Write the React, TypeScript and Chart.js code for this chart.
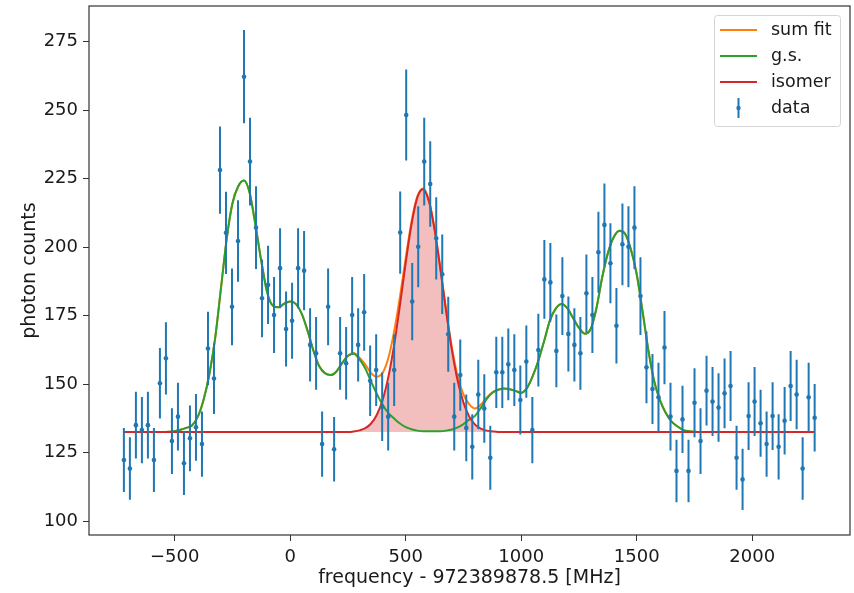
import React, { useEffect, useRef } from 'react';
import { Chart, registerables } from 'chart.js';

Chart.register(...registerables);

// ---- data ----
const freqX = [
  -720, -694, -668, -642, -616, -590, -564, -538, -512, -486,
  -460, -434, -408, -382, -356, -330, -304, -278, -252, -226,
  -200, -174, -148, -122, -96, -70, -44, -18, 8, 34,
  60, 86, 112, 138, 164, 190, 216, 242, 268, 294,
  320, 346, 372, 398, 424, 450, 476, 502, 528, 554,
  580, 606, 632, 658, 684, 710, 736, 762, 788, 814,
  840, 866, 892, 918, 944, 970, 996, 1022, 1048, 1074,
  1100, 1126, 1152, 1178, 1204, 1230, 1256, 1282, 1308, 1334,
  1360, 1386, 1412, 1438, 1464, 1490, 1516, 1542, 1568, 1594,
  1620, 1646, 1672, 1698, 1724, 1750, 1776, 1802, 1828, 1854,
  1880, 1906, 1932, 1958, 1984, 2010, 2036, 2062, 2088, 2114,
  2140, 2166, 2192, 2218, 2244, 2270,
];

const counts = [
  122.3, 119.2, 135.0, 133.2, 135.0, 122.3, 150.3, 159.4, 129.2, 138.1,
  121.1, 130.2, 134.2, 128.1, 163.0, 152.0, 228.1, 205.2, 178.2, 202.2,
  262.2, 231.2, 207.1, 181.3, 186.2, 175.2, 192.3, 170.1, 173.1, 192.3,
  191.4, 164.3, 161.2, 128.1, 178.2, 126.2, 161.2, 157.6, 175.2, 164.3,
  176.2, 151.2, 155.1, 141.7, 138.1, 155.1, 205.3, 248.2, 180.1, 200.1,
  231.2, 223.0, 203.2, 190.1, 168.2, 138.1, 153.3, 134.0, 127.1, 146.2,
  141.1, 123.1, 154.3, 154.3, 157.2, 155.1, 144.2, 158.2, 133.2, 162.4,
  188.2, 187.1, 162.1, 182.1, 168.3, 164.3, 161.2, 183.1, 175.2, 198.1,
  208.1, 194.1, 171.3, 201.0, 200.1, 207.1, 182.1, 156.1, 148.2, 145.2,
  163.3, 138.1, 118.3, 137.1, 118.3, 143.2, 129.2, 147.6, 143.6, 141.4,
  146.6, 149.3, 123.1, 115.2, 138.3, 143.6, 135.7, 128.1, 138.3, 127.1,
  136.6, 149.3, 146.2, 119.2, 145.2, 137.7,
];

const countErr = [
  11.7, 11.4, 12.2, 12.1, 12.2, 11.7, 12.9, 13.2, 12.0, 12.4,
  11.6, 12.0, 12.2, 11.9, 13.4, 12.9, 15.9, 15.0, 14.0, 14.9,
  17.0, 16.0, 15.1, 14.2, 14.3, 13.9, 14.6, 13.7, 13.9, 14.6,
  14.5, 13.4, 13.3, 11.9, 14.0, 11.8, 13.3, 13.2, 13.9, 13.4,
  14.0, 12.9, 13.1, 12.5, 12.4, 13.1, 15.0, 16.6, 14.1, 14.8,
  16.0, 15.6, 15.0, 14.5, 13.7, 12.4, 13.0, 12.2, 11.9, 12.7,
  12.5, 11.7, 13.0, 13.0, 13.1, 13.1, 12.6, 13.2, 12.1, 13.3,
  14.4, 14.4, 13.3, 14.2, 13.7, 13.4, 13.3, 14.2, 13.9, 14.8,
  15.1, 14.6, 13.8, 14.9, 14.8, 15.1, 14.2, 13.1, 12.8, 12.6,
  13.4, 12.4, 11.4, 12.3, 11.4, 12.6, 12.0, 12.7, 12.6, 12.5,
  12.7, 12.8, 11.7, 11.2, 12.4, 12.6, 12.2, 11.9, 12.4, 11.9,
  12.3, 12.8, 12.7, 11.4, 12.6, 12.3,
];

const fitX = [
  -720, -650, -575, -550, -525, -500, -475, -450, -425, -400,
  -375, -350, -325, -300, -275, -250, -225, -200, -175, -150,
  -125, -100, -75, -50, -25, 0, 25, 50, 75, 100,
  125, 150, 175, 200, 225, 250, 275, 300, 325, 350,
  375, 400, 425, 450, 475, 500, 525, 550, 575, 600,
  625, 650, 675, 700, 725, 750, 775, 800, 825, 850,
  875, 900, 925, 950, 975, 1000, 1025, 1050, 1075, 1100,
  1125, 1150, 1175, 1200, 1225, 1250, 1275, 1300, 1325, 1350,
  1375, 1400, 1425, 1450, 1475, 1500, 1525, 1550, 1575, 1600,
  1625, 1650, 1675, 1700, 1725, 1750, 1775, 1850, 2000, 2150,
  2270,
];

const gsFit = [
  132.5, 132.5, 132.5, 132.5, 132.6, 132.8, 133.3, 134.0, 134.9, 138.1,
  144.3, 153.6, 166.7, 184.8, 203.0, 216.0, 222.2, 224.3, 219.6, 207.8,
  194.8, 183.5, 178.6, 178.0, 179.4, 180.1, 179.2, 175.6, 169.5, 162.3,
  156.6, 154.0, 153.3, 154.6, 157.7, 160.3, 161.1, 159.0, 155.7, 150.9,
  146.4, 142.4, 139.4, 137.4, 135.6, 134.3, 133.5, 133.0, 132.8, 132.8,
  132.8, 132.8, 133.0, 133.4, 134.2, 135.4, 137.0, 138.4, 141.3, 144.5,
  146.8, 147.9, 148.4, 148.1, 147.5, 146.8, 148.6, 153.0, 158.8, 166.0,
  173.4, 177.6, 179.2, 177.6, 174.0, 170.5, 168.4, 170.0, 177.5, 188.8,
  197.8, 203.6, 206.0, 204.8, 199.0, 190.0, 176.6, 162.5, 151.2, 144.2,
  139.5, 136.4, 134.6, 133.3, 132.8, 132.6, 132.5, 132.5, 132.5, 132.5,
  132.5,
];

const isoFit = [
  132.5, 132.5, 132.5, 132.5, 132.5, 132.5, 132.5, 132.5, 132.5, 132.5,
  132.5, 132.5, 132.5, 132.5, 132.5, 132.5, 132.5, 132.5, 132.5, 132.5,
  132.5, 132.5, 132.5, 132.5, 132.5, 132.5, 132.5, 132.5, 132.5, 132.5,
  132.5, 132.5, 132.5, 132.5, 132.5, 132.5, 132.7, 133.1, 133.9, 135.6,
  138.8, 144.2, 152.7, 164.4, 178.8, 194.3, 208.3, 218.0, 221.1, 216.8,
  206.3, 191.9, 176.4, 162.3, 151.1, 143.2, 138.1, 135.2, 133.7, 133.0,
  132.7, 132.5, 132.5, 132.5, 132.5, 132.5, 132.5, 132.5, 132.5, 132.5,
  132.5, 132.5, 132.5, 132.5, 132.5, 132.5, 132.5, 132.5, 132.5, 132.5,
  132.5, 132.5, 132.5, 132.5, 132.5, 132.5, 132.5, 132.5, 132.5, 132.5,
  132.5, 132.5, 132.5, 132.5, 132.5, 132.5, 132.5, 132.5, 132.5, 132.5,
  132.5,
];

const sumFit = [
  132.5, 132.5, 132.5, 132.5, 132.6, 132.8, 133.3, 134.0, 134.9, 138.1,
  144.3, 153.6, 166.7, 184.8, 203.0, 216.0, 222.2, 224.3, 219.6, 207.8,
  194.8, 183.5, 178.6, 178.0, 179.4, 180.1, 179.2, 175.6, 169.5, 162.3,
  156.6, 154.0, 153.3, 154.6, 157.7, 160.3, 161.3, 159.6, 157.1, 154.0,
  152.7, 154.1, 159.6, 169.3, 181.9, 196.1, 209.3, 218.5, 221.4, 217.1,
  206.6, 192.2, 176.9, 163.2, 152.8, 146.1, 142.6, 141.1, 142.5, 145.0,
  147.0, 147.9, 148.4, 148.1, 147.5, 146.8, 148.6, 153.0, 158.8, 166.0,
  173.4, 177.6, 179.2, 177.6, 174.0, 170.5, 168.4, 170.0, 177.5, 188.8,
  197.8, 203.6, 206.0, 204.8, 199.0, 190.0, 176.6, 162.5, 151.2, 144.2,
  139.5, 136.4, 134.6, 133.3, 132.8, 132.6, 132.5, 132.5, 132.5, 132.5,
  132.5,
];

const fitBaseline = 132.5;

const xTicks = [-500, 0, 500, 1000, 1500, 2000];
const yTicks = [100, 125, 150, 175, 200, 225, 250, 275];

const xTitle = 'frequency - 972389878.5 [MHz]';
const yTitle = 'photon counts';

const BLUE = '#1f77b4';
const ORANGE = '#ff7f0e';
const GREEN = '#2ca02c';
const RED = '#d62728';
const TEXT = '#1a1a1a';
const FONT = "'DejaVu Sans', 'Liberation Sans', sans-serif";

const errorBarPlugin = {
  id: 'errorBars',
  afterDatasetsDraw(chart: any) {
    const { ctx, chartArea, scales } = chart;
    const xs = scales.x;
    const ys = scales.y;
    ctx.save();
    ctx.beginPath();
    ctx.rect(chartArea.left, chartArea.top, chartArea.right - chartArea.left, chartArea.bottom - chartArea.top);
    ctx.clip();
    ctx.strokeStyle = BLUE;
    ctx.lineWidth = 2;
    ctx.beginPath();
    freqX.forEach((fx, i) => {
      const px = xs.getPixelForValue(fx);
      ctx.moveTo(px, ys.getPixelForValue(counts[i] - countErr[i]));
      ctx.lineTo(px, ys.getPixelForValue(counts[i] + countErr[i]));
    });
    ctx.stroke();
    ctx.restore();
  },
};

const framePlugin = {
  id: 'frame',
  afterDraw(chart: any) {
    const { ctx, chartArea } = chart;
    ctx.save();
    ctx.strokeStyle = '#333333';
    ctx.lineWidth = 1.2;
    ctx.strokeRect(chartArea.left, chartArea.top, chartArea.right - chartArea.left, chartArea.bottom - chartArea.top);
    ctx.restore();
  },
};

function roundRectPath(ctx: any, x: number, y: number, w: number, h: number, r: number) {
  ctx.beginPath();
  ctx.moveTo(x + r, y);
  ctx.arcTo(x + w, y, x + w, y + h, r);
  ctx.arcTo(x + w, y + h, x, y + h, r);
  ctx.arcTo(x, y + h, x, y, r);
  ctx.arcTo(x, y, x + w, y, r);
  ctx.closePath();
}

const legendPlugin = {
  id: 'mplLegend',
  afterDraw(chart: any) {
    const { ctx, chartArea } = chart;
    const boxW = 126;
    const boxH = 111;
    const bx = chartArea.right - 10 - boxW;
    const by = chartArea.top + 9;
    ctx.save();
    roundRectPath(ctx, bx + 0.5, by + 0.5, boxW, boxH, 3);
    ctx.fillStyle = 'rgba(255,255,255,0.85)';
    ctx.fill();
    ctx.strokeStyle = '#d4d4d4';
    ctx.lineWidth = 1;
    ctx.stroke();
    ctx.font = `17.5px ${FONT}`;
    ctx.textBaseline = 'middle';
    ctx.textAlign = 'left';
    const datasets = chart.data.datasets;
    [0, 1, 2, 3].forEach((di, row) => {
      const ds = datasets[di];
      const cy = by + 15 + row * 26;
      if (ds.showLine === false) {
        const cx = bx + 24.5;
        ctx.strokeStyle = BLUE;
        ctx.lineWidth = 2;
        ctx.beginPath();
        ctx.moveTo(cx, cy - 10);
        ctx.lineTo(cx, cy + 10);
        ctx.stroke();
        ctx.fillStyle = BLUE;
        ctx.beginPath();
        ctx.arc(cx, cy, 2.2, 0, Math.PI * 2);
        ctx.fill();
      } else {
        ctx.strokeStyle = ds.borderColor;
        ctx.lineWidth = 2;
        ctx.beginPath();
        ctx.moveTo(bx + 6, cy);
        ctx.lineTo(bx + 43, cy);
        ctx.stroke();
      }
      ctx.fillStyle = TEXT;
      ctx.fillText(ds.label, bx + 57, cy);
    });
    ctx.restore();
  },
};

function fmtTick(v: number) {
  return v < 0 ? '\u2212' + Math.abs(v) : String(v);
}

export default function App() {
  const canvasRef = useRef<HTMLCanvasElement | null>(null);

  useEffect(() => {
    document.body.style.margin = '0';
    const canvas = canvasRef.current;
    if (!canvas) return;

    const curve = (ys: number[]) => fitX.map((x, i) => ({ x, y: ys[i] }));

    const chart = new Chart(canvas, {
      type: 'line',
      data: {
        datasets: [
          {
            label: 'sum fit',
            data: curve(sumFit),
            borderColor: ORANGE,
            borderWidth: 2,
            pointRadius: 0,
            cubicInterpolationMode: 'monotone',
            fill: false,
            order: 3,
          },
          {
            label: 'g.s.',
            data: curve(gsFit),
            borderColor: GREEN,
            borderWidth: 2,
            pointRadius: 0,
            cubicInterpolationMode: 'monotone',
            fill: false,
            order: 2,
          },
          {
            label: 'isomer',
            data: curve(isoFit),
            borderColor: RED,
            borderWidth: 2,
            pointRadius: 0,
            cubicInterpolationMode: 'monotone',
            fill: { value: fitBaseline },
            backgroundColor: 'rgba(214,39,40,0.3)',
            order: 1,
          },
          {
            label: 'data',
            data: freqX.map((x, i) => ({ x, y: counts[i] })),
            showLine: false,
            pointRadius: 2.3,
            pointBackgroundColor: BLUE,
            pointBorderColor: BLUE,
            pointBorderWidth: 0,
            order: 0,
          },
        ] as any,
      },
      options: {
        responsive: false,
        animation: false,
        devicePixelRatio: 1,
        layout: { padding: { top: 6, right: 3, left: 0, bottom: 0 } },
        plugins: {
          legend: { display: false },
          tooltip: { enabled: false },
          filler: { drawTime: 'beforeDatasetsDraw' },
        },
        scales: {
          x: {
            type: 'linear',
            min: -871,
            max: 2423,
            afterBuildTicks: (scale: any) => {
              scale.ticks = xTicks.map((v) => ({ value: v }));
            },
            afterFit: (scale: any) => {
              scale.height = 58;
              scale.paddingLeft = 0;
              scale.paddingRight = 0;
            },
            border: { display: false },
            grid: {
              display: true,
              drawOnChartArea: false,
              drawTicks: true,
              tickLength: 6,
              color: '#333333',
              lineWidth: 1,
            },
            ticks: {
              color: TEXT,
              font: { family: FONT, size: 18 },
              padding: 6,
              maxRotation: 0,
              autoSkip: false,
              callback: (v: any) => fmtTick(Number(v)),
            },
            title: {
              display: true,
              text: xTitle,
              color: TEXT,
              font: { family: FONT, size: 19 },
              padding: { top: 0, bottom: 3.5 },
            },
          },
          y: {
            type: 'linear',
            min: 94.9,
            max: 288,
            afterBuildTicks: (scale: any) => {
              scale.ticks = yTicks.map((v) => ({ value: v }));
            },
            afterFit: (scale: any) => {
              scale.width = 89;
              scale.paddingTop = 0;
              scale.paddingBottom = 0;
            },
            border: { display: false },
            grid: {
              display: true,
              drawOnChartArea: false,
              drawTicks: true,
              tickLength: 6,
              color: '#333333',
              lineWidth: 1,
            },
            ticks: {
              color: TEXT,
              font: { family: FONT, size: 18 },
              padding: 5,
              autoSkip: false,
              callback: (v: any) => fmtTick(Number(v)),
            },
            title: {
              display: true,
              text: yTitle,
              color: TEXT,
              font: { family: FONT, size: 19 },
              padding: { top: 19, bottom: 0 },
            },
          },
        },
      } as any,
      plugins: [errorBarPlugin, framePlugin, legendPlugin],
    });

    return () => {
      chart.destroy();
    };
  }, []);

  return (
    <div style={{ width: 854, height: 593, background: '#ffffff' }}>
      <canvas ref={canvasRef} width={854} height={593} style={{ display: 'block' }} />
    </div>
  );
}
